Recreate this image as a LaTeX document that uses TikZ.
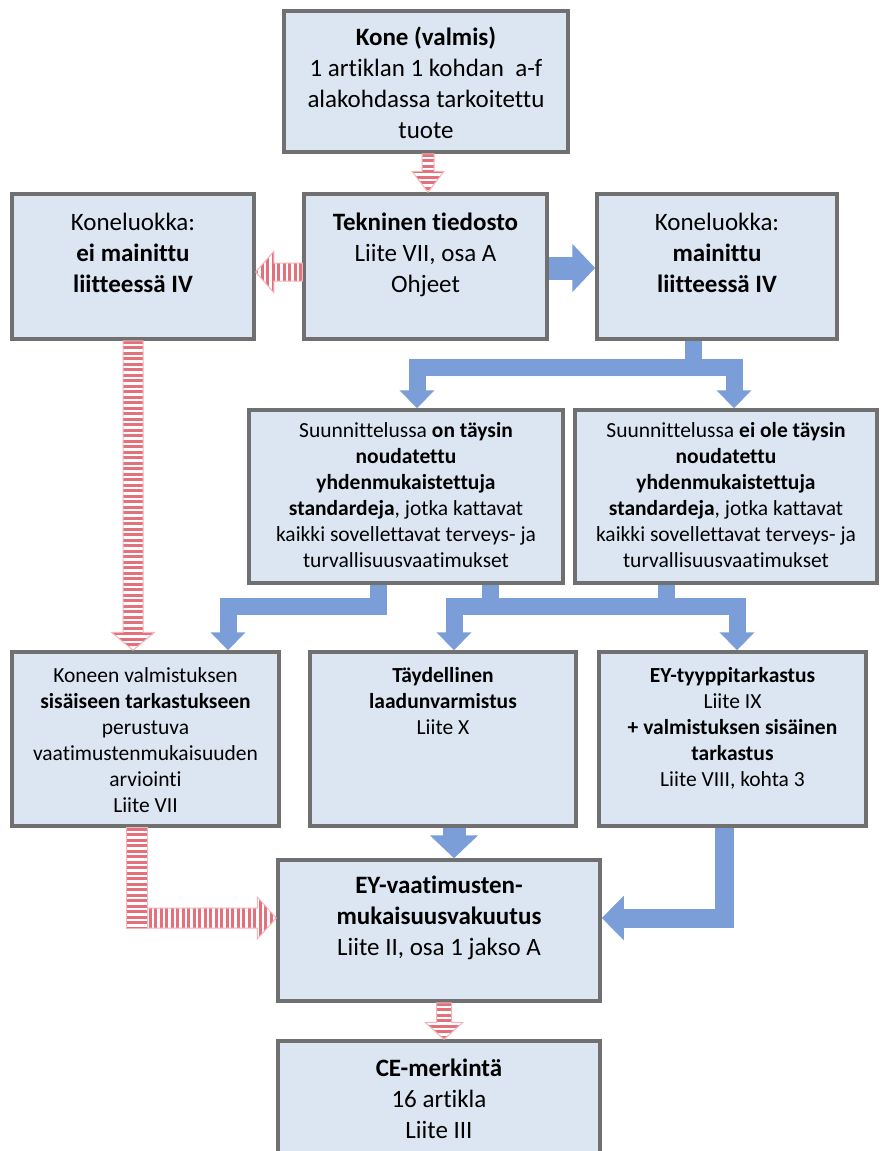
\documentclass[tikz,border=0pt]{standalone}
\usepackage{fontspec}
\setmainfont{Carlito}[Ligatures=NoCommon]
\usetikzlibrary{calc,arrows.meta}
\definecolor{boxfill}{RGB}{220,230,242}
\definecolor{boxline}{RGB}{112,112,112}
\definecolor{flowblue}{RGB}{124,158,216}
\definecolor{stripered}{RGB}{228,112,124}
\definecolor{stripeline}{RGB}{243,180,186}
\newcommand\bigtxt{\fontsize{25}{31}\selectfont}
\newcommand\smalltxt{\fontsize{21.5}{26}\selectfont}
% downward striped arrow: #1 start, #2 tip, #3 half shaft, #4 half head, #5 head length
\newcommand\downstripe[5]{%
  \begin{scope}
  \clip ($(#1)+(-#3,0)$) -- ($(#2)+(-#3,-#5)$) -- ($(#2)+(-#4,-#5)$) -- (#2)
    -- ($(#2)+(#4,-#5)$) -- ($(#2)+(#3,-#5)$) -- ($(#1)+(#3,0)$) -- cycle;
  \foreach \t in {0,5.5,...,330} \fill[stripered] ($(#1)+(-30,\t)$) rectangle ($(#1)+(30,\t+3)$);
  \end{scope}
  \draw[stripeline] ($(#1)+(-#3,0)$) -- ($(#2)+(-#3,-#5)$) -- ($(#2)+(-#4,-#5)$) -- (#2)
    -- ($(#2)+(#4,-#5)$) -- ($(#2)+(#3,-#5)$) -- ($(#1)+(#3,0)$) -- cycle;}
\newcommand\leftstripe[5]{%
  \begin{scope}
  \clip ($(#1)+(0,-#3)$) -- ($(#2)+(#5,-#3)$) -- ($(#2)+(#5,-#4)$) -- (#2)
    -- ($(#2)+(#5,#4)$) -- ($(#2)+(#5,#3)$) -- ($(#1)+(0,#3)$) -- cycle;
  \foreach \t in {0,5.5,...,330} \fill[stripered] ($(#1)+(-\t,-30)$) rectangle ($(#1)+(-\t-3,30)$);
  \end{scope}
  \draw[stripeline] ($(#1)+(0,-#3)$) -- ($(#2)+(#5,-#3)$) -- ($(#2)+(#5,-#4)$) -- (#2)
    -- ($(#2)+(#5,#4)$) -- ($(#2)+(#5,#3)$) -- ($(#1)+(0,#3)$) -- cycle;}
\newcommand\rightstripe[5]{%
  \begin{scope}
  \clip ($(#1)+(0,-#3)$) -- ($(#2)+(-#5,-#3)$) -- ($(#2)+(-#5,-#4)$) -- (#2)
    -- ($(#2)+(-#5,#4)$) -- ($(#2)+(-#5,#3)$) -- ($(#1)+(0,#3)$) -- cycle;
  \foreach \t in {0,5.5,...,330} \fill[stripered] ($(#1)+(\t+1,-30)$) rectangle ($(#1)+(\t+4,30)$);
  \end{scope}
  \draw[stripeline] ($(#1)+(0,-#3)$) -- ($(#2)+(-#5,-#3)$) -- ($(#2)+(-#5,-#4)$) -- (#2)
    -- ($(#2)+(-#5,#4)$) -- ($(#2)+(-#5,#3)$) -- ($(#1)+(0,#3)$) -- cycle;}
\begin{document}
\begin{tikzpicture}[x=1pt,y=-1pt,
  box/.style={draw=boxline, fill=boxfill, line width=3.5pt, rectangle, inner sep=0pt},
  bigt/.style={anchor=north, align=center, inner sep=0pt, font=\bigtxt},
  smallt/.style={anchor=north, align=center, inner sep=0pt, font=\smalltxt},
  blueflow/.style={draw=flowblue, line width=17pt, line join=miter, -{Triangle[width=34pt,length=18pt]}},
  blueline/.style={draw=flowblue, line width=17pt, line join=miter},
  fatflow/.style={draw=flowblue, line width=23pt, -{Triangle[width=47pt,length=23pt]}},
  sideflow/.style={draw=flowblue, line width=19pt, line join=miter, -{Triangle[width=43pt,length=22pt]}},
  stripeline/.style={draw=stripeline, line width=1pt}
]
\useasboundingbox (0,0) rectangle (882,1151);
\clip (0,0) rectangle (882,1151);
\fill[white] (0,0) rectangle (882,1151);

% boxes
\node[box, minimum width=284pt, minimum height=141pt] (kone) at (426,81.5) {};
\node[box, minimum width=243pt, minimum height=145pt] (tek) at (425.5,266.5) {};
\node[box, minimum width=242pt, minimum height=145pt] (ei) at (133,266.5) {};
\node[box, minimum width=240pt, minimum height=145pt] (mai) at (717,266.5) {};
\node[box, minimum width=314pt, minimum height=173pt] (s1) at (406,496.5) {};
\node[box, minimum width=302pt, minimum height=173pt] (s2) at (726,496.5) {};
\node[box, minimum width=267pt, minimum height=174pt] (r1) at (145.5,739) {};
\node[box, minimum width=266pt, minimum height=174pt] (r2) at (443,739) {};
\node[box, minimum width=267pt, minimum height=174pt] (r3) at (732.5,739) {};
\node[box, minimum width=322pt, minimum height=141pt] (ey) at (439,930.5) {};
\node[box, minimum width=322pt, minimum height=141pt] (ce) at (439,1111.5) {};

% texts
\node[bigt] (kone-t) at ($(kone.north)+(0,14.4)$) {\strut\textbf{Kone (valmis)}\\1 artiklan 1 kohdan\ \ a-f\\alakohdassa tarkoitettu\\tuote};
\node[bigt] (tek-t) at ($(tek.north)+(0,16.4)$) {\strut\textbf{Tekninen tiedosto}\\Liite VII, osa A\\Ohjeet};
\node[bigt] (ei-t) at ($(ei.north)+(0,16.4)$) {\strut Koneluokka:\\\textbf{ei mainittu}\\\textbf{liitteessä IV}};
\node[bigt] (mai-t) at ($(mai.north)+(0,16.4)$) {\strut Koneluokka:\\\textbf{mainittu}\\\textbf{liitteessä IV}};
\node[smallt] (s1-t) at ($(s1.north)+(0,10.7)$) {\strut Suunnittelussa \textbf{on täysin}\\\textbf{noudatettu}\\\textbf{yhdenmukaistettuja}\\\textbf{standardeja},\ jotka kattavat\\kaikki sovellettavat terveys- ja\\turvallisuusvaatimukset};
\node[smallt] (s2-t) at ($(s2.north)+(0,10.7)$) {\strut Suunnittelussa \textbf{ei\ ole täysin}\\\textbf{noudatettu}\\\textbf{yhdenmukaistettuja}\\\textbf{standardeja},\ jotka kattavat\\kaikki sovellettavat terveys- ja\\turvallisuusvaatimukset};
\node[smallt] (r1-t) at ($(r1.north)+(0,13.7)$) {\strut Koneen valmistuksen\\\textbf{sisäiseen tarkastukseen}\\perustuva\\vaatimustenmukaisuuden\\arviointi\\Liite VII};
\node[smallt] (r2-t) at ($(r2.north)+(0,13.7)$) {\strut\textbf{Täydellinen}\\\textbf{laadunvarmistus}\\Liite X};
\node[smallt] (r3-t) at ($(r3.north)+(0,13.7)$) {\strut\textbf{EY-tyyppitarkastus}\\Liite IX\\\textbf{+ valmistuksen sisäinen}\\\textbf{tarkastus}\\Liite VIII, kohta 3};
\node[bigt] (ey-t) at ($(ey.north)+(0,13.4)$) {\strut\textbf{EY-vaatimusten-}\\\textbf{mukaisuusvakuutus}\\Liite II, osa 1 jakso A};
\node[bigt] (ce-t) at ($(ce.north)+(0,15.4)$) {\strut\textbf{CE-merkintä}\\16 artikla\\Liite III};

% striped arrows
\coordinate (a0) at ($(kone.south)+(2,0)$);
\coordinate (a1) at (a0 |- tek.north);
\downstripe{a0}{a1}{6}{16}{21}
\coordinate (b0) at ($(tek.west)+(0,5.5)$);
\coordinate (b1) at (b0 -| ei.east);
\leftstripe{b0}{b1}{9}{20.5}{18}
\coordinate (c0) at (ei.south);
\coordinate (c1) at (c0 |- r1.north);
\downstripe{c0}{c1}{10}{21.5}{18}
\coordinate (d0) at ($(r1.south)+(-8.5,0)$);
\coordinate (dc) at ($(ey.west)+(0,-12.5)$);
\coordinate (d1) at (d0 |- dc);
\begin{scope}
  \clip ($(d0)+(-10.5,0)$) rectangle ($(d1)+(10.5,10)$);
  \foreach \t in {0,5.5,...,120} \fill[stripered] ($(d0)+(-30,\t)$) rectangle ($(d0)+(30,\t+3)$);
\end{scope}
\draw[stripeline] ($(d0)+(-10.5,0)$) rectangle ($(d1)+(10.5,10)$);
\coordinate (d2) at ($(d1)+(10.5,0)$);
\rightstripe{d2}{dc}{10}{21}{19}
\coordinate (e0) at ($(ey.south)+(5,0)$);
\coordinate (e1) at (e0 |- ce.north);
\downstripe{e0}{e1}{7.5}{19}{17}

% blue arrows
\coordinate (t0) at ($(tek.east)+(0,1.5)$);
\draw[fatflow] (t0) -- (t0 -| mai.west);
\coordinate (j1) at ($(mai.south)+(-23.5,0)$);
\coordinate (barL) at (417,367);
\coordinate (barR) at (734,367);
\draw[blueflow] (j1) |- (barL) -- (barL |- s1.north);
\draw[blueflow] (j1 |- barR) -- (barR) -- (barR |- s2.north);
\coordinate (k1) at ($(s1.south)+(-28,0)$);
\coordinate (k2) at ($(s1.south)+(84,0)$);
\coordinate (k3) at ($(s2.south)+(-60,0)$);
\coordinate (b1x) at (228,606);
\coordinate (b2x) at (454,606);
\coordinate (b3x) at (737,606);
\draw[blueflow] (k1) |- (b1x) -- (b1x |- r1.north);
\draw[blueflow] (k2) |- (b2x) -- (b2x |- r2.north);
\draw[blueflow] (k3) |- (b3x) -- (b3x |- r3.north);
\draw[blueline] (k2 |- b2x) -- (k3 |- b3x);
\coordinate (k4) at ($(r2.south)+(11,0)$);
\draw[fatflow] (k4) -- (k4 |- ey.north);
\coordinate (k5) at ($(r3.south)+(-8,0)$);
\draw[sideflow] (k5) |- (ey.east |- dc);
\end{tikzpicture}
\end{document}
